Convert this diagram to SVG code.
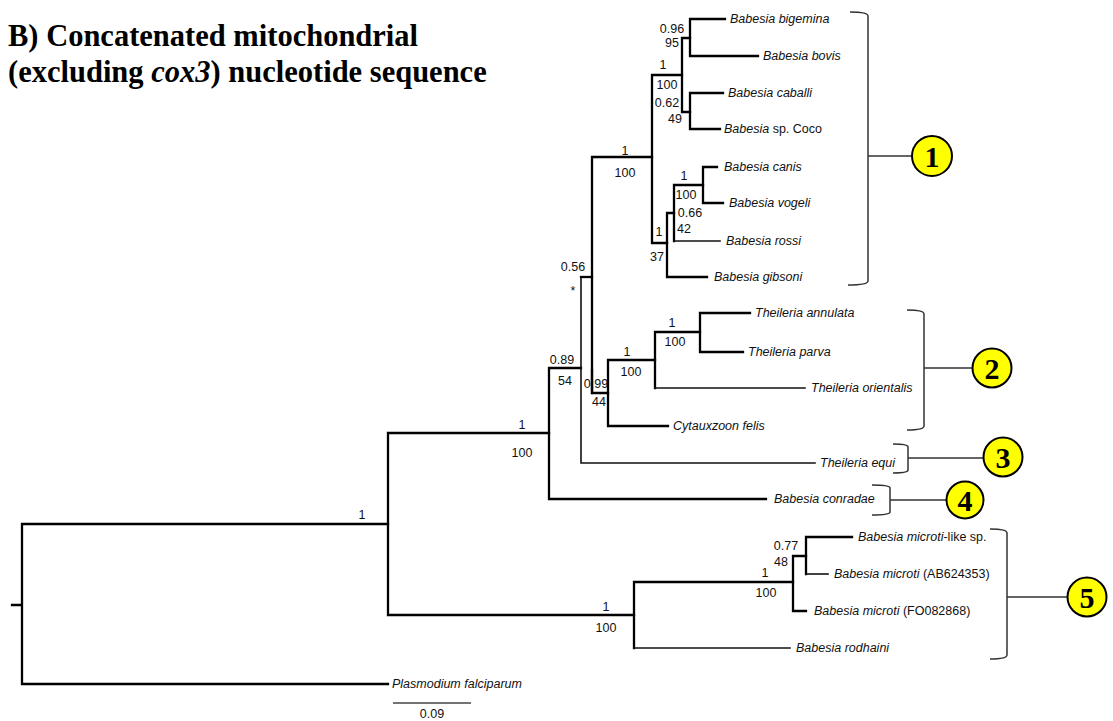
<svg xmlns="http://www.w3.org/2000/svg" width="1113" height="721" viewBox="0 0 1113 721">
  <style>
    .title { font-family: "Liberation Serif", "Times New Roman", serif; font-weight: bold; font-size: 30.5px; fill: #000; }
    .br { fill: none; stroke: #000; stroke-width: 2.3; stroke-linecap: square; }
    .thin { fill: none; stroke: #111; stroke-width: 1.6; stroke-linecap: square; }
    .sp { font-family: "Liberation Sans", Arial, sans-serif; font-size: 12.5px; fill: #111; }
    .it { font-style: italic; }
    .sup { font-family: "Liberation Sans", Arial, sans-serif; font-size: 12.5px; fill: #111; text-anchor: middle; }
    .brk { fill: none; stroke: #333; stroke-width: 1.5; }
    .badge circle { fill: #ffff00; stroke: #000; stroke-width: 2; }
    .badge text { font-family: "Liberation Serif", "Times New Roman", serif; font-weight: bold; font-size: 30px; text-anchor: middle; fill: #000; }
    .scale { stroke: #444; stroke-width: 1.3; }
  </style>

  <rect width="1113" height="721" fill="#fff"/>

  <!-- Title -->
  <g id="title">
    <text class="title" x="8" y="46">B) Concatenated mitochondrial</text>
    <text class="title" x="8" y="82">(excluding <tspan font-style="italic">cox3</tspan>) nucleotide sequence</text>
  </g>

  <!-- Tree branches (rectangular cladogram) -->
  <g id="connectors">
    <!-- root -->
    <path class="br" d="M12 605 H22 M22 524 V684 M22 524 H388 M22 684 H388"/>
    <!-- node A -->
    <path class="br" d="M388 433 V615 M388 433 H549 M388 615 H634"/>
    <!-- node B -->
    <path class="br" d="M549 368 V499 M549 368 H581 M549 499 H766"/>
    <!-- node C -->
    <path class="thin" d="M581 277 V463 M581 463 H815"/>
    <path class="br" d="M581 277 H592"/>
    <!-- node D -->
    <path class="br" d="M592 157 V393 M592 157 H652 M592 393 H608"/>
    <!-- Babesia clade: node N -->
    <path class="br" d="M652 75 V243 M652 75 H682 M652 243 H667"/>
    <!-- node L -->
    <path class="br" d="M682 38 V112 M682 38 H690 M682 112 H690"/>
    <!-- node K -->
    <path class="br" d="M690 19 V56 M690 19 H725 M690 56 H758"/>
    <!-- node M -->
    <path class="br" d="M690 93 V129 M690 93 H723 M690 129 H720"/>
    <!-- node Q -->
    <path class="br" d="M667 213 V277 M667 213 H674 M667 277 H707"/>
    <!-- node P -->
    <path class="br" d="M674 185 V241 M674 185 H703"/>
    <path class="thin" d="M674 241 H720"/>
    <!-- node O -->
    <path class="br" d="M703 167 V203 M703 167 H717 M703 203 H723"/>
    <!-- Theileria clade: node E -->
    <path class="br" d="M608 360 V426 M608 360 H655 M608 426 H668"/>
    <!-- node F -->
    <path class="br" d="M655 332 V388 M655 332 H700"/>
    <path class="thin" d="M655 388 H805"/>
    <!-- node G -->
    <path class="br" d="M700 313 V352 M700 313 H750 M700 352 H743"/>
    <!-- node J -->
    <path class="br" d="M634 582 V648 M634 582 H793"/>
    <path class="thin" d="M634 648 H790"/>
    <!-- node I -->
    <path class="br" d="M793 556 V611 M793 556 H806 M793 611 H806"/>
    <!-- node H -->
    <path class="br" d="M806 537 V574 M806 537 H852"/>
    <path class="thin" d="M806 574 H828"/>
  </g>

  <!-- Support values (posterior probability above, bootstrap below) -->
  <g id="support">
    <text class="sup" x="362" y="519">1</text>
    <text class="sup" x="522" y="429">1</text>
    <text class="sup" x="522" y="457">100</text>
    <text class="sup" x="606" y="611">1</text>
    <text class="sup" x="606" y="632">100</text>
    <text class="sup" x="562" y="364">0.89</text>
    <text class="sup" x="565" y="385">54</text>
    <text class="sup" x="573" y="271">0.56</text>
    <text class="sup" x="573" y="295">*</text>
    <text class="sup" x="625" y="155">1</text>
    <text class="sup" x="625" y="177">100</text>
    <text class="sup" x="672" y="33">0.96</text>
    <text class="sup" x="672" y="47">95</text>
    <text class="sup" x="663" y="69">1</text>
    <text class="sup" x="667" y="89">100</text>
    <text class="sup" x="667" y="107">0.62</text>
    <text class="sup" x="675" y="123">49</text>
    <text class="sup" x="684" y="180">1</text>
    <text class="sup" x="686" y="199">100</text>
    <text class="sup" x="690" y="217">0.66</text>
    <text class="sup" x="684" y="233">42</text>
    <text class="sup" x="659" y="236">1</text>
    <text class="sup" x="657" y="261">37</text>
    <text class="sup" x="596" y="388">0.99</text>
    <text class="sup" x="599" y="406">44</text>
    <text class="sup" x="627" y="356">1</text>
    <text class="sup" x="631" y="376">100</text>
    <text class="sup" x="672" y="327">1</text>
    <text class="sup" x="675" y="346">100</text>
    <text class="sup" x="786" y="550">0.77</text>
    <text class="sup" x="781" y="566">48</text>
    <text class="sup" x="765" y="577">1</text>
    <text class="sup" x="766" y="597">100</text>
  </g>
  <!-- node D stem drawn over its 0.99 label -->
  <path class="br" d="M592 370 V393"/>

  <!-- Taxa -->
  <g id="taxa">
    <text class="sp it" x="730" y="23">Babesia bigemina</text>
    <text class="sp it" x="763" y="60">Babesia bovis</text>
    <text class="sp it" x="728" y="97">Babesia caballi</text>
    <text class="sp" x="724" y="133"><tspan font-style="italic">Babesia</tspan> sp. Coco</text>
    <text class="sp it" x="724" y="171">Babesia canis</text>
    <text class="sp it" x="729" y="207">Babesia vogeli</text>
    <text class="sp it" x="726" y="245">Babesia rossi</text>
    <text class="sp it" x="714" y="281">Babesia gibsoni</text>
    <text class="sp it" x="755" y="317">Theileria annulata</text>
    <text class="sp it" x="748" y="356">Theileria parva</text>
    <text class="sp it" x="811" y="392">Theileria orientalis</text>
    <text class="sp it" x="673" y="430">Cytauxzoon felis</text>
    <text class="sp it" x="820" y="467">Theileria equi</text>
    <text class="sp it" x="774" y="503">Babesia conradae</text>
    <text class="sp" x="858" y="541"><tspan font-style="italic">Babesia microti</tspan>-like sp.</text>
    <text class="sp" x="834" y="578"><tspan font-style="italic">Babesia microti</tspan> (AB624353)</text>
    <text class="sp" x="814" y="615"><tspan font-style="italic">Babesia microti</tspan> (FO082868)</text>
    <text class="sp it" x="796" y="652">Babesia rodhaini</text>
    <text class="sp it" x="392" y="688">Plasmodium falciparum</text>
  </g>

  <!-- Scale bar -->
  <g id="scalebar">
    <line class="scale" x1="393" y1="703" x2="471" y2="703"/>
    <text class="sup" x="432" y="718" font-size="11.5">0.09</text>
  </g>

  <!-- Clade brackets and numbered badges -->
  <g id="clade1">
    <path class="brk" d="M850 12 Q868 12 868 16 V281 Q868 285 848 285 M868 156 H912"/>
    <g class="badge"><circle cx="932" cy="156" r="20"/><text x="932" y="167">1</text></g>
  </g>
  <g id="clade2">
    <path class="brk" d="M907 310 Q924 310 924 314 V426 Q924 430 907 430 M924 368 H973"/>
    <g class="badge"><circle cx="992" cy="368" r="19.5"/><text x="992" y="379">2</text></g>
  </g>
  <g id="clade3">
    <path class="brk" d="M893 444 Q908 444 908 447 V470 Q908 473 893 473 M908 458 H983"/>
    <g class="badge"><circle cx="1003" cy="457" r="19.5"/><text x="1003" y="468">3</text></g>
  </g>
  <g id="clade4">
    <path class="brk" d="M872 485 Q890 485 890 488 V512 Q890 515 872 515 M890 500 H947"/>
    <g class="badge"><circle cx="965" cy="500" r="18.5"/><text x="965" y="511">4</text></g>
  </g>
  <g id="clade5">
    <path class="brk" d="M990 529 Q1007 529 1007 533 V655 Q1007 659 990 659 M1007 597 H1068"/>
    <g class="badge"><circle cx="1087" cy="597" r="19.5"/><text x="1087" y="608">5</text></g>
  </g>
</svg>
